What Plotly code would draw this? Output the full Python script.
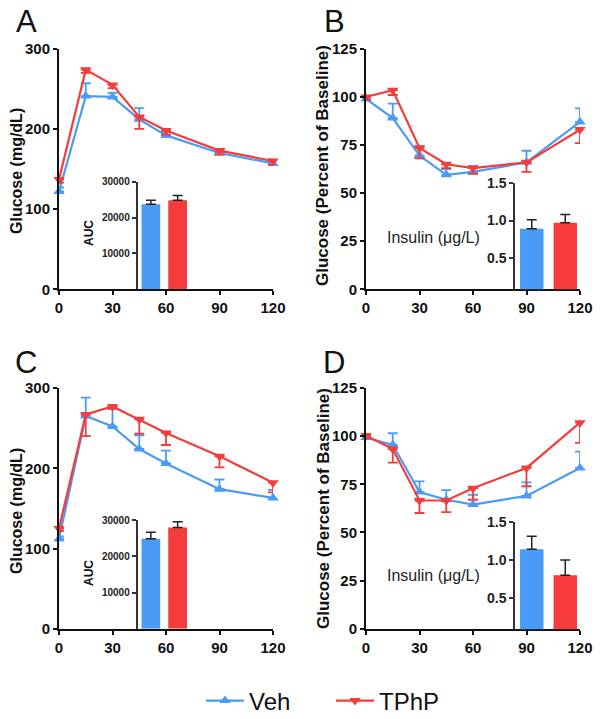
import plotly.graph_objects as go

BLUE = "#4A9BF5"
RED = "#F43C3C"
FONT = "Arial, Liberation Sans, sans-serif"

time_min = [0, 15, 30, 45, 60, 90, 120]
time_ticks = [0, 30, 60, 90, 120]
groups = ["Veh", "TPhP"]

# panel A - glucose tolerance (mg/dL)
a_veh = [122, 241, 240, 212, 192, 170, 157]
a_veh_sem = [5, 16, 5, 14, 5, 5, 5]
a_tphp = [137, 274, 255, 215, 198, 173, 160]
a_tphp_sem = [4, 4, 4, 15, 5, 5, 5]
a_auc = [23700, 24850]
a_auc_sem = [1100, 1300]

# panel B - insulin tolerance (% baseline)
b_veh = [99, 89, 69.5, 59.5, 61, 66, 87]
b_veh_sem = [1.5, 7.5, 5, 3, 3, 6, 7]
b_tphp = [100, 103.5, 73.5, 65, 63, 66, 83]
b_tphp_sem = [1.5, 2.5, 5.5, 2, 3, 5, 7]
b_ins = [0.89, 0.97]
b_ins_sem = [0.12, 0.11]

# panel C
c_veh = [112, 265, 252, 224, 206, 174, 163]
c_veh_sem = [3, 23, 24, 17, 16, 12, 10]
c_tphp = [125, 267, 277, 261, 244, 215, 182]
c_tphp_sem = [3, 27, 3, 18, 15, 14, 12]
c_auc = [24800, 27900]
c_auc_sem = [1800, 1650]

# panel D
d_veh = [99.3, 95.5, 71, 67, 64.5, 69, 83.5]
d_veh_sem = [1.5, 6, 5.5, 5, 5, 7, 8.5]
d_tphp = [100.3, 93.3, 66.6, 66.6, 73, 83.5, 107]
d_tphp_sem = [1.5, 7, 6.5, 6, 6, 9.5, 10.5]
d_ins = [1.14, 0.80]
d_ins_sem = [0.17, 0.20]

glu_ticks = [0, 100, 200, 300]
pct_ticks = [0, 25, 50, 75, 100, 125]
auc_ticks = [10000, 20000, 30000]
ins_ticks = [0.5, 1.0, 1.5]

W, H = 602, 719


def px_x(x):
    return x / W


def px_y(y):
    return (H - y) / H


def bold(vals, fmt="{}"):
    return ["<b>" + fmt.format(v) + "</b>" for v in vals]


fig = go.Figure()


def add_curves(xa, ya, veh, veh_sem, tphp, tphp_sem, legend):
    fig.add_trace(go.Scatter(
        x=time_min, y=veh, xaxis=xa, yaxis=ya, name="Veh", mode="lines+markers",
        line=dict(color=BLUE, width=2.2), marker=dict(symbol="triangle-up", size=10, color=BLUE),
        error_y=dict(type="data", array=veh_sem, arrayminus=[0] * len(veh_sem), symmetric=False,
                     color=BLUE, thickness=1.8, width=5),
        cliponaxis=False, showlegend=legend, legendgroup="veh"))
    fig.add_trace(go.Scatter(
        x=time_min, y=tphp, xaxis=xa, yaxis=ya, name="TPhP", mode="lines+markers",
        line=dict(color=RED, width=2.2), marker=dict(symbol="triangle-down", size=10, color=RED),
        error_y=dict(type="data", array=[0] * len(tphp_sem), arrayminus=tphp_sem, symmetric=False,
                     color=RED, thickness=1.8, width=5),
        cliponaxis=False, showlegend=legend, legendgroup="tphp"))


def add_bars(xa, ya, vals, sems):
    fig.add_trace(go.Bar(
        x=[0, 1], y=vals, xaxis=xa, yaxis=ya, width=0.7, marker=dict(color=[BLUE, RED], line_width=0),
        error_y=dict(type="data", array=sems, arrayminus=[0, 0], symmetric=False,
                     color="#222", thickness=1.5, width=5),
        showlegend=False, hoverinfo="skip"))


add_curves("x", "y", a_veh, a_veh_sem, a_tphp, a_tphp_sem, True)
add_curves("x2", "y2", b_veh, b_veh_sem, b_tphp, b_tphp_sem, False)
add_curves("x3", "y3", c_veh, c_veh_sem, c_tphp, c_tphp_sem, False)
add_curves("x4", "y4", d_veh, d_veh_sem, d_tphp, d_tphp_sem, False)
add_bars("x5", "y5", a_auc, a_auc_sem)
add_bars("x6", "y6", b_ins, b_ins_sem)
add_bars("x7", "y7", c_auc, c_auc_sem)
add_bars("x8", "y8", d_ins, d_ins_sem)

tickfont = dict(family=FONT, size=15, color="#111")
main_x = dict(range=[0, 120], tickvals=time_ticks, ticktext=bold(time_ticks), showline=True,
              linecolor="#111", linewidth=2, ticks="outside", ticklen=4, tickwidth=2,
              tickcolor="#111", showgrid=False, zeroline=False, tickfont=tickfont)
main_y = dict(showline=True, linecolor="#111", linewidth=2, ticks="outside", ticklen=4,
              tickwidth=2, tickcolor="#111", showgrid=False, zeroline=False,
              tickfont=tickfont, ticklabelstandoff=0)

left_x = [px_x(59), px_x(273)]
right_x = [px_x(366), px_x(580)]
top_y = [px_y(289.3), px_y(48.8)]
bot_y = [px_y(628.8), px_y(388)]

layout = dict(
    width=W, height=H, margin=dict(l=0, r=0, t=0, b=0, autoexpand=False),
    paper_bgcolor="white", plot_bgcolor="rgba(0,0,0,0)",
    font=dict(family=FONT, color="#111"),
    xaxis=dict(main_x, domain=left_x, anchor="y"),
    yaxis=dict(main_y, domain=top_y, anchor="x", range=[0, 300], tickvals=glu_ticks, ticktext=bold(glu_ticks)),
    xaxis2=dict(main_x, domain=right_x, anchor="y2"),
    yaxis2=dict(main_y, domain=top_y, anchor="x2", range=[0, 125], tickvals=pct_ticks, ticktext=bold(pct_ticks)),
    xaxis3=dict(main_x, domain=left_x, anchor="y3"),
    yaxis3=dict(main_y, domain=bot_y, anchor="x3", range=[0, 300], tickvals=glu_ticks, ticktext=bold(glu_ticks)),
    xaxis4=dict(main_x, domain=right_x, anchor="y4"),
    yaxis4=dict(main_y, domain=bot_y, anchor="x4", range=[0, 125], tickvals=pct_ticks, ticktext=bold(pct_ticks)),
    showlegend=True,
    legend=dict(orientation="h", x=px_x(201), xanchor="left", y=px_y(701), yanchor="middle",
                font=dict(family=FONT, size=24, color="#111"), itemwidth=38,
                entrywidth=77, entrywidthmode="pixels", bgcolor="rgba(0,0,0,0)"),
)

inset_x = dict(range=[-0.5, 1.5], showline=False, showticklabels=False, ticks="",
               showgrid=False, zeroline=False)
inset_y = dict(showline=True, linecolor="#333", linewidth=1.5, ticks="outside", ticklen=4,
               tickwidth=1.5, tickcolor="#333", showgrid=False, zeroline=False)
auc_font = dict(family=FONT, size=10, color="#222")
ins_font = dict(family=FONT, size=14, color="#222")
auc_x = [px_x(137.5), px_x(191)]
ins_x = [px_x(515), px_x(582)]

layout["xaxis5"] = dict(inset_x, domain=auc_x, anchor="y5")
layout["yaxis5"] = dict(inset_y, domain=[px_y(289.3), px_y(181.7)], anchor="x5", range=[0, 30000],
                        tickvals=auc_ticks, ticktext=bold(auc_ticks), tickfont=auc_font)
layout["xaxis6"] = dict(inset_x, domain=ins_x, anchor="y6")
layout["yaxis6"] = dict(inset_y, domain=[px_y(289.3), px_y(182.7)], anchor="x6", range=[0.09, 1.5],
                        tickvals=ins_ticks, ticktext=bold(ins_ticks, "{:.1f}"), tickfont=ins_font)
layout["xaxis7"] = dict(inset_x, domain=auc_x, anchor="y7")
layout["yaxis7"] = dict(inset_y, domain=[px_y(628.8), px_y(520)], anchor="x7", range=[0, 30000],
                        tickvals=auc_ticks, ticktext=bold(auc_ticks), tickfont=auc_font)
layout["xaxis8"] = dict(inset_x, domain=ins_x, anchor="y8")
layout["yaxis8"] = dict(inset_y, domain=[px_y(629.3), px_y(521.7)], anchor="x8", range=[0.095, 1.5],
                        tickvals=ins_ticks, ticktext=bold(ins_ticks, "{:.1f}"), tickfont=ins_font)

fig.update_layout(**layout)

annots = []


def note(text, x, y, size, angle=0, color="#111"):
    annots.append(dict(text=text, x=px_x(x), y=px_y(y), xref="paper", yref="paper",
                       xanchor="center", yanchor="middle", textangle=angle, showarrow=False,
                       font=dict(family=FONT, size=size, color=color)))


for letter, x, y in [("A", 26, 21), ("B", 334, 21), ("C", 26, 362), ("D", 334, 362)]:
    note(letter, x, y, 31)
note("<b>Glucose (mg/dL)</b>", 16, 171, 16, -90)
note("<b>Glucose (Percent of Baseline)</b>", 323, 166, 17, -90)
note("<b>Glucose (mg/dL)</b>", 16, 511, 16, -90)
note("<b>Glucose (Percent of Baseline)</b>", 323, 509, 17, -90)
for y in [233, 573]:
    note("<b>AUC</b>", 89, y, 12, -90)
for y in [237, 575]:
    note("Insulin (\u03bcg/L)", 433, y, 16, 0, "#222")
fig.update_layout(annotations=annots)

# page has a default body margin; drop it so the figure sits at the window origin
fig.write_html("out.html", config={"displayModeBar": False},
               post_script="document.body.style.margin='0';document.body.style.overflow='hidden';")
